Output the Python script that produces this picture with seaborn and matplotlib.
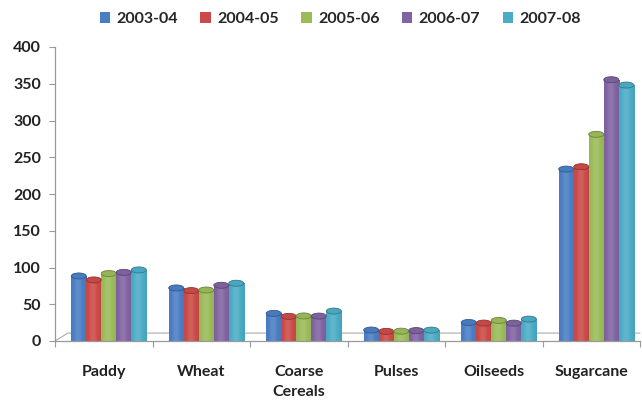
import numpy as np
import pandas as pd
import matplotlib
matplotlib.use("Agg")
import matplotlib.pyplot as plt
from matplotlib.patches import Ellipse, Patch
from matplotlib.transforms import ScaledTranslation
import matplotlib.colors as mcolors
import seaborn as sns

# Production by crop and season
crops = ["Paddy", "Wheat", "Coarse\nCereals", "Pulses", "Oilseeds", "Sugarcane"]
years = ["2003-04", "2004-05", "2005-06", "2006-07", "2007-08"]
y2003_04 = [88.5, 72.2, 37.6, 14.9, 25.2, 233.9]
y2004_05 = [83.1, 68.6, 33.5, 13.1, 24.4, 237.1]
y2005_06 = [91.8, 69.4, 34.1, 13.4, 28.0, 281.2]
y2006_07 = [93.4, 75.8, 33.9, 14.2, 24.3, 355.5]
y2007_08 = [96.7, 78.6, 40.7, 14.8, 29.8, 348.2]
y_ticks = [0, 50, 100, 150, 200, 250, 300, 350, 400]

colors = ["#4A7EC4", "#CB4A47", "#9BBB59", "#8064A2", "#4BACC6"]

series = [y2003_04, y2004_05, y2005_06, y2006_07, y2007_08]
df = pd.DataFrame(
    [(c, yr, v) for yr, vals in zip(years, series) for c, v in zip(crops, vals)],
    columns=["crop", "year", "value"],
)

sns.set_theme(style="white")
plt.rcParams["font.family"] = ["Lato", "DejaVu Sans"]

fig = plt.figure(figsize=(6.42, 4.0), dpi=100)
ax = fig.add_axes([55 / 642, 1 - 341 / 400, 585 / 642, (341 - 47) / 400])

sns.barplot(data=df, x="crop", y="value", hue="year", palette=colors,
            order=crops, hue_order=years, width=0.77, ax=ax,
            legend=False, saturation=1, edgecolor="none")

ax.set_xlim(-0.5, 5.5)
ax.set_ylim(0, 400)

# Bars sit a little deeper on the floor, so shift them right a few pixels
depth = ax.transData + ScaledTranslation(5 / 100, 0, fig.dpi_scale_trans)

# Cylinder look: horizontal shading clipped to each bar plus elliptical caps
ppu = (341 - 47) / 400.0  # pixels per value unit
cap_h = 6.0 / ppu
grad = np.linspace(0, 1, 64)
shade = 0.55 + 0.45 * np.sin(np.pi * (0.15 + 0.8 * grad))
for i, cont in enumerate(ax.containers):
    base = np.array(mcolors.to_rgb(colors[i]))
    img = np.zeros((1, 64, 4))
    for k, s in enumerate(shade):
        if s >= 0.9:
            c = base + (1 - base) * (s - 0.9) * 1.2
        else:
            c = base * (0.78 + 0.25 * s)
        img[0, k, :3] = np.clip(c, 0, 1)
        img[0, k, 3] = 1
    for bar in cont.patches:
        bar.set_transform(depth)
        x0, w, h = bar.get_x(), bar.get_width(), bar.get_height()
        im = ax.imshow(img, extent=[x0, x0 + w, 0, h], aspect="auto",
                       zorder=bar.get_zorder() + 0.1, interpolation="bilinear")
        im.set_transform(depth)
        im.set_clip_path(bar)
        ax.add_patch(Ellipse((x0 + w / 2, 0), w, cap_h, transform=depth,
                             facecolor=base * 0.78, edgecolor="none",
                             zorder=bar.get_zorder() + 0.05))
        ax.add_patch(Ellipse((x0 + w / 2, h), w, cap_h, transform=depth,
                             facecolor=base * 0.97, edgecolor=base * 0.7,
                             linewidth=0.6, zorder=bar.get_zorder() + 0.2))

ax.set_xlabel("")
ax.set_ylabel("")
ax.set_yticks(y_ticks)
ax.set_yticklabels([str(t) for t in y_ticks], fontsize=11.5, fontweight="bold",
                   color="#222222")
ax.set_xticks(range(len(crops)))
ax.set_xticklabels(crops, fontsize=11.5, fontweight="bold", color="#222222",
                   linespacing=1.55)
ax.set_xticks(np.arange(-0.5, 6.0, 1.0), minor=True)
ax.tick_params(axis="x", which="major", length=0, pad=17)
ax.tick_params(axis="x", which="minor", length=4, color="#999999", width=0.8,
               direction="out", bottom=True)
ax.tick_params(axis="y", length=4, color="#999999", width=0.8,
               direction="out", left=True, pad=6)

for side in ["top", "right"]:
    ax.spines[side].set_visible(False)
for side in ["left", "bottom"]:
    ax.spines[side].set_color("#999999")
    ax.spines[side].set_linewidth(0.9)

# Floor edge of the chart area
ax.plot([0, 0.022, 1.0], [0, 0.027, 0.027], transform=ax.transAxes,
        color="#aaaaaa", linewidth=0.8, zorder=0.5, clip_on=False)

handles = [Patch(facecolor=c, edgecolor="none") for c in colors]
fig.legend(handles, years, loc="center", bbox_to_anchor=(0.53, 1 - 19 / 400),
           ncol=5, frameon=False, handlelength=0.65, handleheight=0.65,
           handletextpad=0.4, columnspacing=1.4,
           prop={"weight": "bold", "size": 11.5})

fig.savefig("out.png", dpi=100)
